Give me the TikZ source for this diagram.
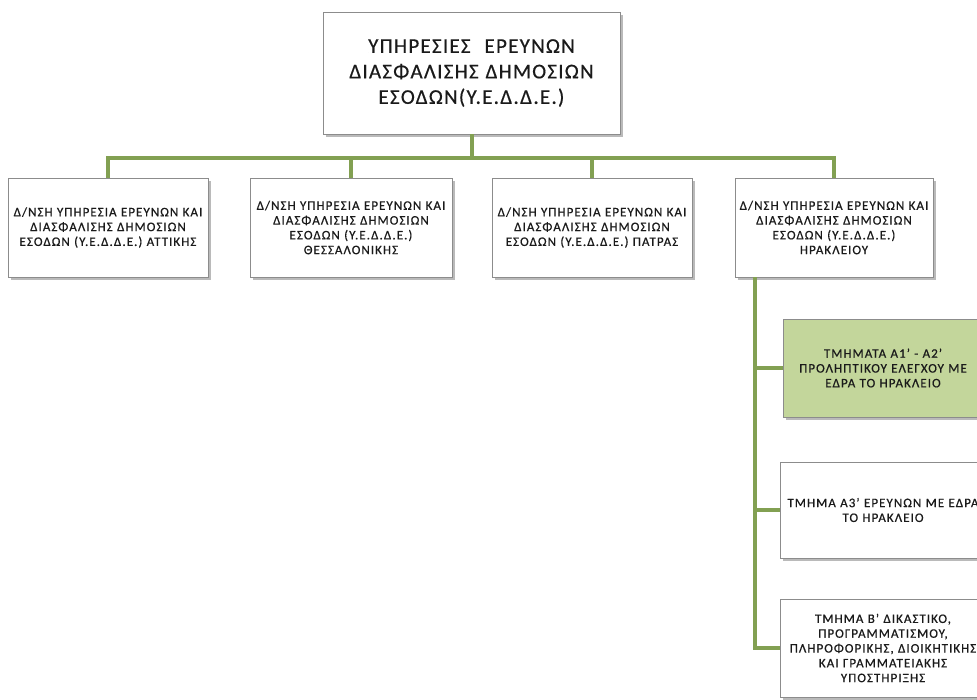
\documentclass[tikz,border=0pt]{standalone}
\usepackage{fontspec}
\setmainfont{Carlito}
\usetikzlibrary{shadows}
\definecolor{conn}{HTML}{82A052}
\definecolor{boxline}{HTML}{8C8C8C}
\definecolor{greenfill}{HTML}{C3D69B}
\definecolor{txt}{HTML}{1A1A1A}
\tikzset{
  orgbox/.style={draw=boxline, line width=0.8pt, fill=white, align=center,
    text=txt, inner sep=1pt,
    drop shadow={opacity=0.45, shadow xshift=2.5pt, shadow yshift=-2.5pt, fill=black!60}},
  link/.style={draw=conn, line width=4pt}
}
\begin{document}
\begin{tikzpicture}[x=1pt,y=-1pt]
\useasboundingbox (0,0) rectangle (977,699);
\clip (0,0) rectangle (977,699);
\node[orgbox, minimum width=297pt, minimum height=122pt, text width=292pt,
  font=\fontsize{21}{25.5}\selectfont\addfontfeature{LetterSpace=6,FakeBold=0.5}] (top) at (471.5,73)
  {ΥΠΗΡΕΣΙΕΣ\ \ ΕΡΕΥΝΩΝ\\ ΔΙΑΣΦΑΛΙΣΗΣ ΔΗΜΟΣΙΩΝ\\ ΕΣΟΔΩΝ(Υ.Ε.Δ.Δ.Ε.)};
\tikzset{rowtxt/.style={font=\fontsize{13}{14.8}\selectfont\addfontfeature{LetterSpace=8,FakeBold=0.6}}}
\node[orgbox, rowtxt, minimum width=200pt, minimum height=99pt, text width=198pt] (r1) at (108,227.5)
  {Δ/ΝΣΗ ΥΠΗΡΕΣΙΑ ΕΡΕΥΝΩΝ ΚΑΙ\\ ΔΙΑΣΦΑΛΙΣΗΣ ΔΗΜΟΣΙΩΝ\\ ΕΣΟΔΩΝ (Υ.Ε.Δ.Δ.Ε.) ΑΤΤΙΚΗΣ};
\node[orgbox, rowtxt, minimum width=202pt, minimum height=99pt, text width=200pt] (r2) at (351,227.5)
  {Δ/ΝΣΗ ΥΠΗΡΕΣΙΑ ΕΡΕΥΝΩΝ ΚΑΙ\\ ΔΙΑΣΦΑΛΙΣΗΣ ΔΗΜΟΣΙΩΝ\\ ΕΣΟΔΩΝ (Υ.Ε.Δ.Δ.Ε.)\\ ΘΕΣΣΑΛΟΝΙΚΗΣ};
\node[orgbox, rowtxt, minimum width=200pt, minimum height=99pt, text width=198pt] (r3) at (592,227.5)
  {Δ/ΝΣΗ ΥΠΗΡΕΣΙΑ ΕΡΕΥΝΩΝ ΚΑΙ\\ ΔΙΑΣΦΑΛΙΣΗΣ ΔΗΜΟΣΙΩΝ\\ ΕΣΟΔΩΝ (Υ.Ε.Δ.Δ.Ε.) ΠΑΤΡΑΣ};
\node[orgbox, rowtxt, minimum width=198pt, minimum height=99pt, text width=196pt] (r4) at (834,227.5)
  {Δ/ΝΣΗ ΥΠΗΡΕΣΙΑ ΕΡΕΥΝΩΝ ΚΑΙ\\ ΔΙΑΣΦΑΛΙΣΗΣ ΔΗΜΟΣΙΩΝ\\ ΕΣΟΔΩΝ (Υ.Ε.Δ.Δ.Ε.)\\ ΗΡΑΚΛΕΙΟΥ};
\node[orgbox, rowtxt, fill=greenfill, minimum width=200pt, minimum height=98pt, text width=196pt] (c1) at (883,368)
  {ΤΜΗΜΑΤΑ Α1' - Α2'\\ ΠΡΟΛΗΠΤΙΚΟΥ ΕΛΕΓΧΟΥ ΜΕ\\ ΕΔΡΑ ΤΟ ΗΡΑΚΛΕΙΟ};
\node[orgbox, rowtxt, minimum width=200pt, minimum height=96pt, text width=204pt] (c2) at (883,510)
  {ΤΜΗΜΑ Α3' ΕΡΕΥΝΩΝ ΜΕ ΕΔΡΑ\\ ΤΟ ΗΡΑΚΛΕΙΟ};
\node[orgbox, rowtxt, minimum width=200pt, minimum height=98pt, text width=204pt] (c3) at (883,648)
  {ΤΜΗΜΑ Β' ΔΙΚΑΣΤΙΚΟ,\\ ΠΡΟΓΡΑΜΜΑΤΙΣΜΟΥ,\\ ΠΛΗΡΟΦΟΡΙΚΗΣ, ΔΙΟΙΚΗΤΙΚΗΣ\\ ΚΑΙ ΓΡΑΜΜΑΤΕΙΑΚΗΣ\\ ΥΠΟΣΤΗΡΙΞΗΣ};
% connectors
\coordinate (bus) at (471.5,158);
\draw[link] (top.south) -- (bus);
\draw[link] (r1.north) |- (bus) -| (r4.north);
\draw[link] (r2.north) -- (r2.north |- bus);
\draw[link] (r3.north) -- (r3.north |- bus);
\coordinate (trunk) at ([xshift=-79pt]r4.south);
\draw[link] (trunk) |- (c3.west);
\draw[link] (trunk |- c1.west) -- (c1.west);
\draw[link] (trunk |- c2.west) -- (c2.west);
\end{tikzpicture}
\end{document}
